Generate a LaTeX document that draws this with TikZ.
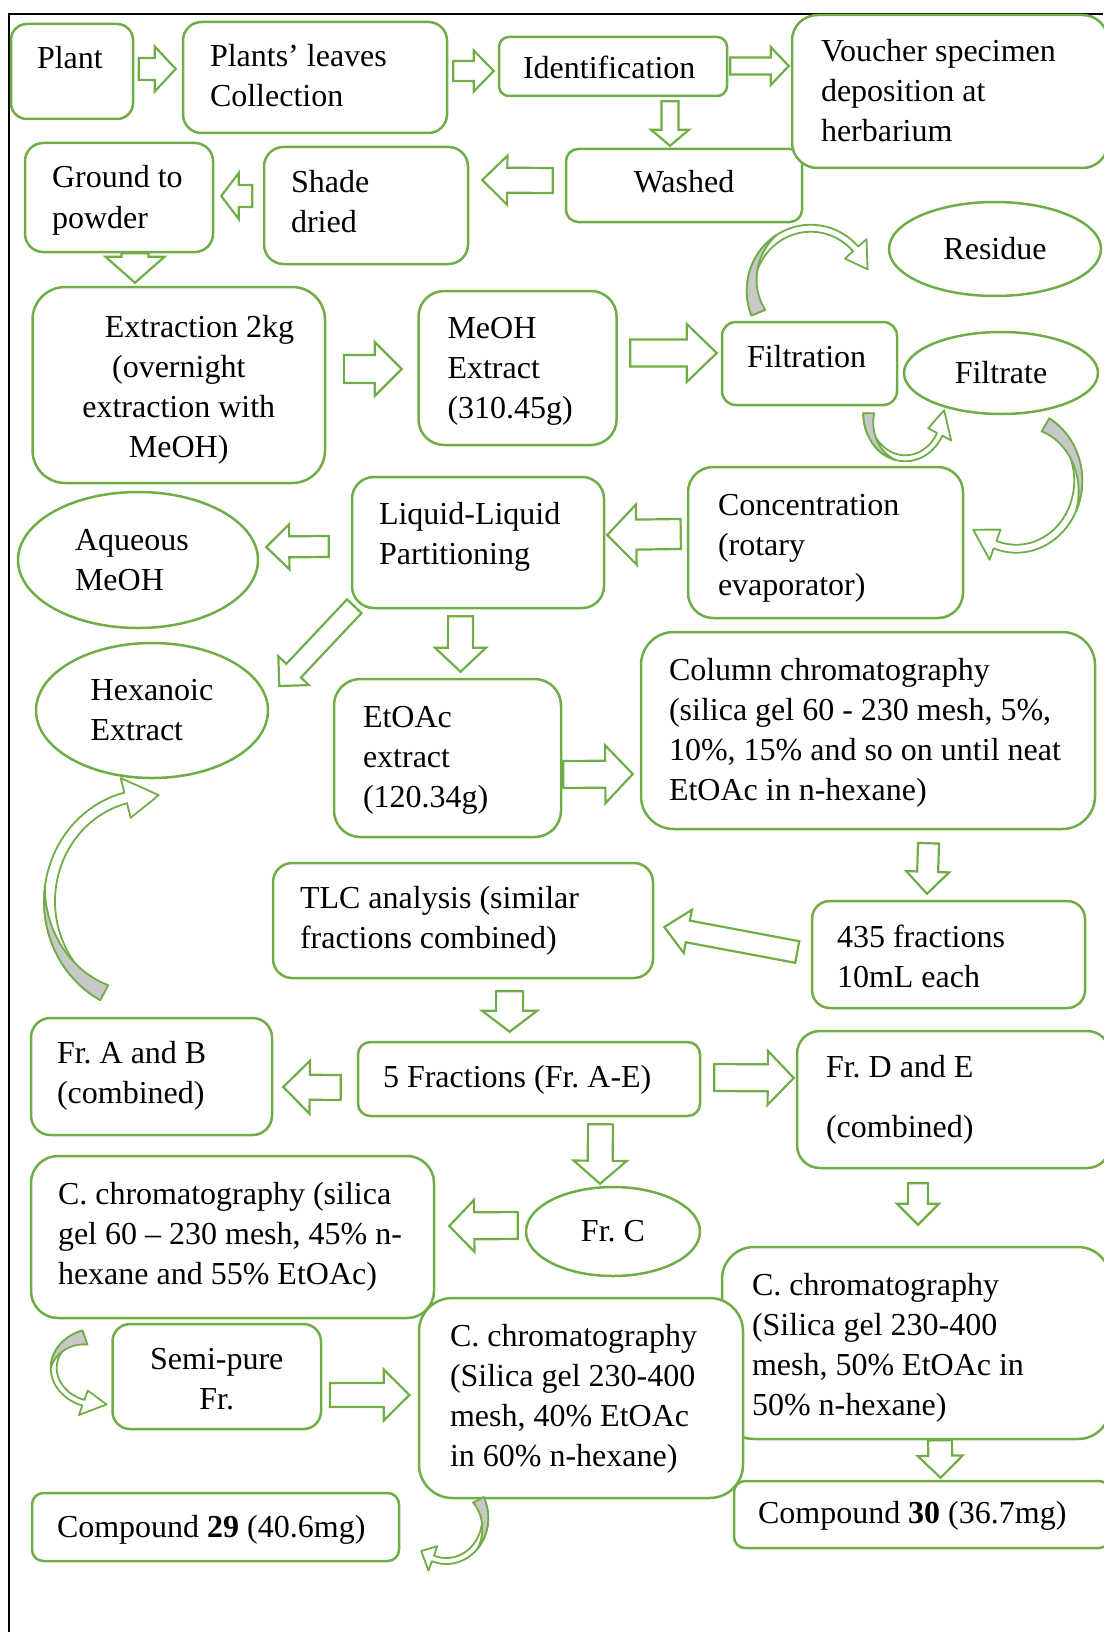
\documentclass[tikz,border=0pt]{standalone}
\usepackage{fontspec}
\setmainfont{Liberation Serif}
\usetikzlibrary{calc,shapes.geometric}

\definecolor{leaf}{HTML}{70AD47}
\definecolor{backside}{HTML}{C8C8C8}

% lines of a box kept as set, left or centred, with the font's own spaces
\newcommand\fbtableft[1]{\spaceskip=0pt\relax\xspaceskip=0pt\relax
  \begin{tabular}[t]{@{}l@{}}#1\end{tabular}}
\newcommand\fbtabcenter[1]{\spaceskip=0pt\relax\xspaceskip=0pt\relax
  \begin{tabular}[t]{@{}c@{}}#1\end{tabular}}

% rounded box from (x1,y1) to (x2,y2), left pad, first baseline below top
\newcommand\flowbox[9][]{%
  \pgfmathsetmacro\fbW{#5-#3}%
  \pgfmathsetmacro\fbH{#6-#4}%
  \pgfmathsetmacro\fbR{min(\fbW,\fbH)/6}%
  \pgfmathsetmacro\fbT{\fbW-2*#7}%
  \pgfmathsetmacro\fbD{\fbH-#8}%
  \let\fbtab\fbtableft
  \node[box, inner xsep=#7pt, text width=\fbT pt, text height=#8pt,
    text depth=\fbD pt, rounded corners=\fbR pt, #1]
    (#2) at ({(#3+#5)/2},{(#4+#6)/2}) {\fbtab{#9}};%
}

% hollow block arrow: tail, tip, shaft half width, head half width, head length
\newcommand\blockarr[5]{%
  \path (#1) coordinate (ba-t) (#2) coordinate (ba-p);
  \path ($(ba-p)!#5pt!(ba-t)$) coordinate (ba-c);
  \draw[arrowbody] ($(ba-t)!#3pt!90:(ba-p)$) -- ($(ba-c)!#3pt!90:(ba-p)$)
    -- ($(ba-c)!#4pt!90:(ba-p)$) -- (ba-p) -- ($(ba-c)!#4pt!-90:(ba-p)$)
    -- ($(ba-c)!#3pt!-90:(ba-p)$) -- ($(ba-t)!#3pt!-90:(ba-p)$) -- cycle;%
}

% curved band arrow: cx, cy, rx, ry, tail angle, head angle, tip angle, tail width, band width
\newcommand\bentarrow[9]{%
  \pgfmathsetmacro\cmid{(#5+#6)/2}%
  \pgfmathsetmacro\chead{1.5*#9+4}%
  \draw[bandline, fill=white]
    plot[domain=#5:#6, samples=40, variable=\ang] ({#1+#3*cos(\ang)}, {#2+#4*sin(\ang)})
    -- ({#1+(#3+\chead-#9/2)*cos(#6)}, {#2+(#4+\chead-#9/2)*sin(#6)})
    -- ({#1+(#3-#9/2)*cos(#7)}, {#2+(#4-#9/2)*sin(#7)})
    -- ({#1+(#3-#9/2-\chead)*cos(#6)}, {#2+(#4-#9/2-\chead)*sin(#6)})
    -- plot[domain=#6:#5, samples=40, variable=\ang] ({#1+(#3-#9)*cos(\ang)}, {#2+(#4-#9)*sin(\ang)})
    -- cycle;
  \draw[bandline, fill=backside]
    plot[domain=#5:\cmid, samples=30, variable=\ang] ({#1+#3*cos(\ang)}, {#2+#4*sin(\ang)})
    -- plot[domain=\cmid:#5, samples=30, variable=\ang]
       ({#1+(#3-#8*(\ang-\cmid)/(#5-\cmid))*cos(\ang)}, {#2+(#4-#8*(\ang-\cmid)/(#5-\cmid))*sin(\ang)})
    -- cycle;%
}

\begin{document}
\begin{tikzpicture}[x=1pt, y=-1pt,
  font=\fontsize{32}{40}\selectfont\frenchspacing,
  box/.style={draw=leaf, line width=2.5pt, fill=white, inner ysep=0pt, align=left},
  centred/.style={align=center, /utils/exec={\let\fbtab\fbtabcenter}},
  oval/.style={ellipse, draw=leaf, line width=2.5pt, fill=white, inner sep=0pt, align=left},
  arrowbody/.style={draw=leaf, line width=2.2pt, fill=white, line join=miter},
  bandline/.style={draw=leaf, line width=1.8pt, line join=round}
]
\useasboundingbox (0,0) rectangle (1103,1632);
\draw[line width=2pt] (8.5,1632) -- (8.5,14) -- (1103,14);

% collection
\flowbox{plant}{11}{24}{133}{119}{26}{45}{Plant}
\flowbox{leaves}{183}{22}{447}{133}{27}{45}{Plants’ leaves\\Collection}
\flowbox{ident}{499}{37}{727}{96}{24}{42}{Identification}
\flowbox[centred]{washed}{566}{149}{802}{222}{27}{44}{Washed}
\flowbox{voucher}{792}{15}{1108}{168}{29}{47}{Voucher specimen\\deposition at\\herbarium}
\flowbox{dried}{264}{147}{468}{264}{27}{46}{Shade\\dried}
\flowbox{ground}{25}{143}{213}{252}{27}{45}{Ground to\\powder}

% extraction
\flowbox[centred]{extract}{32.5}{287}{325}{483}{20}{50}{\hspace*{1.3em}Extraction 2kg\\(overnight\\extraction with\\MeOH)}
\flowbox{meoh}{418.5}{291}{616.6}{445}{29}{47}{MeOH\\Extract\\(310.45g)}
\node[oval, minimum width=212pt, minimum height=94pt] (residue) at (995,249) {Residue};
\flowbox{filt}{722}{322}{897}{405}{25}{45}{Filtration}
\node[oval, minimum width=194pt, minimum height=82pt] (filtrate) at (1001,373) {Filtrate};
\node[oval, minimum width=240pt, minimum height=136pt, text width=126pt] (aq) at (138,560) {Aqueous\\MeOH};
\flowbox{ll}{352}{477}{604}{608}{27}{47}{Liquid-Liquid\\Partitioning}
\flowbox{conc}{688}{467}{963}{618}{30}{48}{Concentration\\(rotary\\evaporator)}
\node[oval, minimum width=232pt, minimum height=135pt] (hex) at (152,710.5) {Hexanoic\\Extract};

% fractionation
\flowbox{etoac}{334}{679}{561}{837}{29}{48}{EtOAc\\extract\\(120.34g)}
\flowbox{col}{641}{632}{1095}{829}{28}{48}{Column chromatography\\(silica gel 60 - 230 mesh, 5\%,\\10\%, 15\% and so on until neat\\EtOAc in n-hexane)}
\flowbox{tlc}{273}{863}{653}{978}{27}{45}{TLC analysis (similar\\fractions combined)}
\flowbox{f435}{812}{901}{1085}{1008}{25}{46}{435 fractions\\10mL each}
\flowbox{frab}{31}{1018}{272}{1135}{26}{45}{Fr. A and B\\(combined)}
\flowbox{five}{358}{1042}{700}{1116}{25}{45}{5 Fractions (Fr. A-E)}
\flowbox{frde}{797}{1031}{1110}{1168}{29}{46}{Fr. D and E\\[20pt](combined)}
\node[oval, minimum width=174pt, minimum height=89pt] (frc) at (613,1231.5) {Fr. C};
\flowbox{cleft}{31}{1156}{434}{1318}{27}{48}{C. chromatography (silica\\gel 60 – 230 mesh, 45\% n-\\hexane and 55\% EtOAc)}
\flowbox[centred]{semi}{112.5}{1324}{321}{1429}{20}{45}{Semi-pure\\Fr.}
\flowbox{cright}{722}{1247}{1110}{1439}{30}{48}{C. chromatography\\(Silica gel 230-400\\mesh, 50\% EtOAc in\\50\% n-hexane)}
\flowbox{comp30}{734}{1481}{1110}{1548}{24}{42}{Compound \textbf{30} (36.7mg)}
\flowbox{cmid}{419}{1298}{743}{1498}{31}{48}{C. chromatography\\(Silica gel 230-400\\mesh, 40\% EtOAc\\in 60\% n-hexane)}
\flowbox{comp29}{32}{1493}{399}{1561}{25}{44}{Compound \textbf{29} (40.6mg)}

% block arrows
\blockarr{$(plant.east)+(4.5,-2.5)$}{$(leaves.west)+(-6,-8.5)$}{11}{22.5}{21}
\blockarr{$(leaves.east)+(5,-6.5)$}{$(ident.west)+(-4,4.5)$}{10}{20.5}{20}
\blockarr{$(ident.east)+(2,-0.5)$}{$(voucher.west)+(-2,-25.5)$}{8.5}{19}{18}
\blockarr{$(ident.south)+(57,4)$}{$(washed.north)+(-14,-2)$}{8.5}{19}{16}
\blockarr{$(washed.west)+(-12,-5)$}{$(dried.east)+(13,-25.5)$}{12.5}{24.5}{25}
\blockarr{$(dried.west)+(-10.5,-9.5)$}{$(ground.east)+(7,-1.5)$}{11}{23}{17.5}
\blockarr{$(ground.south)+(16,0)$}{$(extract.north)+(-43.75,-3)$}{13.5}{29.5}{26}
\blockarr{$(extract.east)+(17.6,-16)$}{$(meoh.west)+(-15.5,1)$}{14}{27}{27}
\blockarr{$(meoh.east)+(12.4,-15)$}{$(filt.west)+(-4,-10.5)$}{13.5}{29}{30}
\blockarr{$(conc.west)+(-6,-8.5)$}{$(ll.east)+(2,-7.5)$}{15}{30}{29}
\blockarr{$(ll.west)+(-22,4)$}{$(aq.east)+(7,-13)$}{10.5}{22.5}{23}
\blockarr{$(ll.south west)+(3.5,-3)$}{$(hex.east)+(10,-24.5)$}{10}{21}{21}
\blockarr{$(ll.south)+(-17.5,7)$}{$(etoac.north)+(13,-6)$}{12.5}{25.5}{24}
\blockarr{$(etoac.east)+(1,16.5)$}{$(col.west)+(-7,43.5)$}{13.5}{29}{27.5}
\blockarr{$(col.south)+(60.5,13)$}{$(f435.north)+(-21.5,-6)$}{10.5}{21.5}{22}
\blockarr{$(f435.west)+(-13.5,-2.5)$}{$(tlc.east)+(10,6.5)$}{11}{22}{24}
\blockarr{$(tlc.south)+(46.6,12)$}{$(five.north)+(-19.4,-9)$}{13.5}{27.5}{21}
\blockarr{$(five.west)+(-16,8.5)$}{$(frab.east)+(10,10.5)$}{12.5}{26.5}{26.5}
\blockarr{$(five.east)+(13,-1.5)$}{$(frde.west)+(-2,-21.5)$}{13.5}{27}{26}
\blockarr{$(five.south)+(71.5,7)$}{$(frc.north)+(-13,-2)$}{12.5}{26.5}{23}
\blockarr{$(frc.west)+(-7,-6)$}{$(cleft.east)+(14,-11)$}{13.5}{26}{25}
\blockarr{$(frde.south)+(-35.5,14)$}{$(cright.north)+(2,-21)$}{10}{21}{21}
\blockarr{$(semi.east)+(7.6,18.5)$}{$(cmid.west)+(-8.3,-3)$}{12}{25.5}{25.7}
\blockarr{$(cright.south)+(24,0)$}{$(comp30.north)+(18.6,-2)$}{12}{22.5}{22}

% curved arrows
\begin{scope}[shift={(filt.north west)}]
  \bentarrow{90}{-30}{64}{66}{158}{318}{340}{15}{7}
\end{scope}
\begin{scope}[shift={(filt.south east)}]
  \bentarrow{7}{7}{42}{48}{180}{28}{-4}{11}{6}
\end{scope}
\begin{scope}[shift={(conc.north east)}]
  \bentarrow{52}{15}{66}{72}{-60}{110}{134}{15}{8}
\end{scope}
\begin{scope}[shift={(hex.south)}]
  \bentarrow{-2}{122}{106}{112}{118}{256}{275}{17}{11}
\end{scope}
\begin{scope}[shift={(semi.west)}]
  \bentarrow{-12.5}{-8.5}{48}{40}{250}{110}{80}{15}{6}
\end{scope}
\begin{scope}[shift={(comp29.east)}]
  \bentarrow{46}{-9}{42}{46}{-27}{110}{130}{12}{6}
\end{scope}
\end{tikzpicture}
\end{document}
